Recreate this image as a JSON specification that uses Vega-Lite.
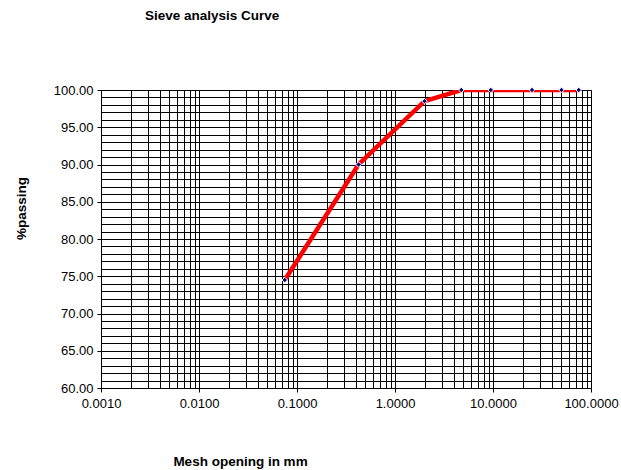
{
  "$schema": "https://vega.github.io/schema/vega-lite/v6.json",
  "width": 490,
  "height": 298,
  "autosize": "none",
  "padding": {"left": 101, "top": 90, "right": 30, "bottom": 82},
  "background": "white",
  "config": {
    "font": "Liberation Sans",
    "view": {"stroke": "#808080", "strokeWidth": 1}
  },
  "title": {
    "text": "Sieve analysis Curve",
    "anchor": "start",
    "frame": "group",
    "dx": 44,
    "offset": 55,
    "baseline": "middle",
    "fontSize": 13.5,
    "fontWeight": "bold",
    "color": "black",
    "font": "Liberation Sans"
  },
  "data": {
    "values": [
      {"mm": 0.075, "pass": 74.5},
      {"mm": 0.425, "pass": 90.0},
      {"mm": 2.0, "pass": 98.5},
      {"mm": 4.75, "pass": 100},
      {"mm": 9.5, "pass": 100},
      {"mm": 25, "pass": 100},
      {"mm": 50, "pass": 100},
      {"mm": 75, "pass": 100}
    ]
  },
  "encoding": {
    "x": {
      "field": "mm",
      "type": "quantitative",
      "scale": {"type": "log", "domain": [0.001, 100], "nice": false},
      "axis": {
        "title": "Mesh opening in mm",
        "titleFont": "Liberation Sans",
        "titleFontSize": 13.5,
        "titleFontWeight": "bold",
        "titleColor": "black",
        "titleX": 139,
        "titleY": 73,
        "titleAlign": "center",
        "titleBaseline": "middle",
        "values": [0.001, 0.002, 0.003, 0.004, 0.005, 0.006, 0.007, 0.008, 0.009,
                   0.01, 0.02, 0.03, 0.04, 0.05, 0.06, 0.07, 0.08, 0.09,
                   0.1, 0.2, 0.3, 0.4, 0.5, 0.6, 0.7, 0.8, 0.9,
                   1, 2, 3, 4, 5, 6, 7, 8, 9,
                   10, 20, 30, 40, 50, 60, 70, 80, 90, 100],
        "labelExpr": "abs(log(datum.value)/LN10 - round(log(datum.value)/LN10)) < 0.001 ? format(datum.value, '.4f') : ''",
        "labelFont": "Liberation Sans",
        "labelFontSize": 13,
        "labelColor": "black",
        "labelPadding": 5,
        "labelFlush": false,
        "labelOverlap": false,
        "tickSize": 4,
        "tickColor": "black",
        "tickOpacity": {"condition": {"test": "abs(log(datum.value)/LN10 - round(log(datum.value)/LN10)) < 0.001", "value": 1}, "value": 0},
        "domainColor": "black",
        "grid": true,
        "gridColor": "black",
        "gridOpacity": 1,
        "gridWidth": 1
      }
    },
    "y": {
      "field": "pass",
      "type": "quantitative",
      "scale": {"domain": [60, 100], "nice": false, "zero": false},
      "axis": {
        "title": "%passing",
        "titleFont": "Liberation Sans",
        "titleFontSize": 13.5,
        "titleFontWeight": "bold",
        "titleColor": "black",
        "titleAngle": 270,
        "titleX": -80,
        "titleY": 118,
        "titleAlign": "center",
        "titleBaseline": "middle",
        "values": [60, 61, 62, 63, 64, 65, 66, 67, 68, 69, 70, 71, 72, 73, 74, 75, 76, 77, 78, 79, 80,
                   81, 82, 83, 84, 85, 86, 87, 88, 89, 90, 91, 92, 93, 94, 95, 96, 97, 98, 99, 100],
        "labelExpr": "datum.value % 5 === 0 ? format(datum.value, '.2f') : ''",
        "labelFont": "Liberation Sans",
        "labelFontSize": 13,
        "labelColor": "black",
        "labelPadding": 4,
        "labelFlush": false,
        "labelOverlap": false,
        "tickSize": 4,
        "tickColor": "black",
        "tickOpacity": {"condition": {"test": "datum.value % 5 === 0", "value": 1}, "value": 0},
        "domainColor": "black",
        "grid": true,
        "gridColor": "black",
        "gridOpacity": 1,
        "gridWidth": 1
      }
    }
  },
  "layer": [
    {"mark": {"type": "line", "color": "#FF0000", "strokeWidth": 4.5, "clip": true}},
    {"mark": {"type": "point", "shape": "diamond", "filled": true, "color": "#000080", "stroke": "white", "strokeWidth": 1, "size": 30, "opacity": 1}}
  ]
}
